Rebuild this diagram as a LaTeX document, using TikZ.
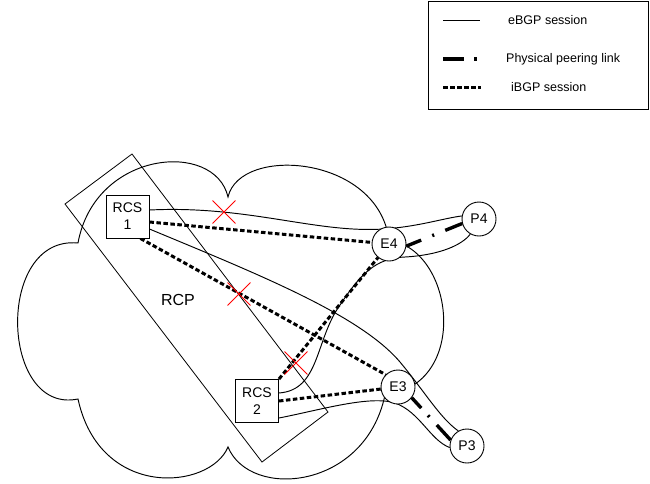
\documentclass[tikz,border=0pt]{standalone}
\usepackage{fontspec}
\setmainfont{Liberation Sans}
\usetikzlibrary{calc,backgrounds,shapes.misc}
\begin{document}
\begin{tikzpicture}[x=1pt,y=-1pt,
  ebgp/.style={line width=0.95pt},
  ibgp/.style={line width=3pt, dash pattern=on 4.5pt off 2.5pt},
  phys/.style={line width=3.4pt},
  xmark/.style={cross out, draw=red, line width=0.9pt, minimum size=22pt, inner sep=0pt},
  rcsbox/.style={draw, line width=0.9pt, fill=white, minimum width=43pt, minimum height=43pt, inner sep=0pt, align=center, font=\fontsize{14}{17}\selectfont},
  router/.style={draw, circle, fill=white, line width=0.9pt, minimum size=34pt, inner sep=0pt, font=\fontsize{14}{17}\selectfont},
  legtext/.style={anchor=west, inner sep=0pt, font=\fontsize{12.5}{14}\selectfont}]
\useasboundingbox (0,0) rectangle (650,483);

% nodes
\node[rcsbox] (r1) at (127.5,216.5) {RCS\\1};
\node[rcsbox] (r2) at (257,401) {RCS\\2};
\node[router] (e4) at (389,244) {E4};
\node[router] (p4) at (479,219) {P4};
\node[router] (e3) at (398,387) {E3};
\node[router] (p3) at (467,446) {P3};
\node[font=\fontsize{16}{19}\selectfont] (rcp) at (178,300) {RCP};

\begin{pgfonlayer}{background}
% cloud
\draw[ebgp] (78,243) .. controls (95,150) and (215,140) .. (228,197)
  .. controls (240,145) and (378,155) .. (389,240)
  .. controls (455,250) and (470,385) .. (385,395)
  .. controls (365,490) and (250,500) .. (228,447)
  .. controls (210,490) and (100,500) .. (78,399)
  .. controls (0,415) and (-5,235) .. (78,243) -- cycle;
% RCP rectangle
\draw[line width=0.8pt] (132,154) -- (328,412) -- (262,462) -- (65,204) -- cycle;

% eBGP sessions
\draw[ebgp] ($(r1.east)+(0,-6.5)$) .. controls (250,205) and (320,235) .. ($(e4.north)+(0,2)$)
  .. controls (420,226) and (445,218) .. (p4.170);
\draw[ebgp] ($(r2.east)+(0,-8)$) .. controls (320,390) and (315,340) .. (340,305)
  .. controls (360,275) and (375,258) .. (405,257)
  .. controls (440,255) and (462,245) .. (p4.240);
\draw[ebgp] ($(r1.east)+(0,12.5)$) .. controls (260,275) and (360,315) .. (400,362)
  .. controls (425,392) and (440,418) .. (p3.120);
\draw[ebgp] ($(r2.east)+(0,17)$) .. controls (320,410) and (370,395) .. (395,403)
  .. controls (420,412) and (430,440) .. (p3.185);

% iBGP sessions
\draw[ibgp] ($(r1.east)+(0,5.5)$) -- (e4);
\draw[ibgp] ($(r1.south east)+(-9,0)$) -- (e3.135);
\draw[ibgp] (r2.north east) -- (e4);
\draw[ibgp] (r2.east) -- (e3);
\end{pgfonlayer}

% physical peering links
\draw[phys, dash pattern=on 16pt off 12pt on 2pt off 12pt on 30pt] (e4.-7) -- (p4.195);
\draw[phys, dash pattern=on 14pt off 10pt on 2pt off 11pt on 30pt] (e3.-38) -- (p3.160);

% failures
\node[xmark] (x1) at (224,212) {};
\node[xmark] (x2) at (239,294) {};
\node[xmark] (x3) at (296,363) {};

% legend
\node[draw, line width=0.8pt, anchor=north west, minimum width=220pt, minimum height=108pt, inner sep=0pt] (legend) at (428,1) {};
\draw[ebgp] (443,20) -- (480,20);
\node[legtext] (l1) at (508,20) {eBGP session};
\draw[phys] (443,59) -- (464,59);
\draw[phys] (474,59) -- (476.5,59);
\node[legtext] (l2) at (506,59) {Physical peering link};
\draw[ibgp] (443,87) -- (481,87);
\node[legtext] (l3) at (511,87) {iBGP session};
\end{tikzpicture}
\end{document}
